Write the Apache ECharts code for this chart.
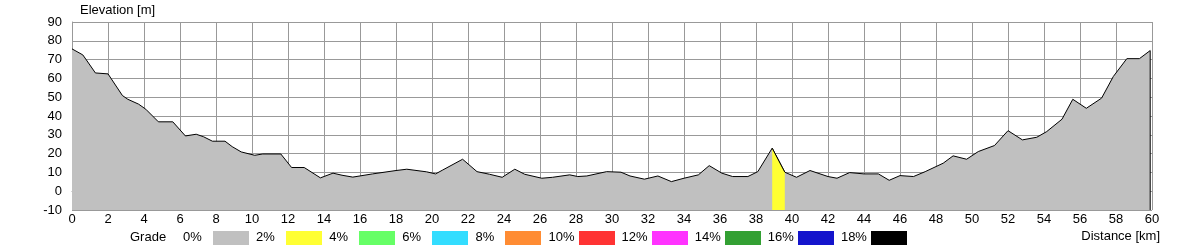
<!DOCTYPE html>
<html>
<head>
<meta charset="utf-8">
<script src="https://cdn.jsdelivr.net/npm/echarts@6/dist/echarts.min.js"></script>
<style>
html,body{margin:0;padding:0;background:#fff;}
#chart{width:1200px;height:250px;}
</style>
</head>
<body>
<div id="chart"></div>
<script>
// Distance (km) and elevation (m) along the route
var distances = [0.0,0.6,0.8,1.3,2.0,2.8,3.1,3.7,4.1,4.8,5.6,6.3,6.9,7.3,7.8,8.5,8.9,9.4,10.15,10.6,11.6,12.2,12.9,13.8,14.5,15.0,15.6,16.7,18.0,18.6,19.7,20.2,20.6,21.7,22.5,23.2,23.9,24.6,25.15,26.1,26.7,27.65,28.1,28.6,29.7,30.5,31.0,31.8,32.55,33.3,34.0,34.8,35.4,36.1,36.7,37.55,38.1,38.9,39.6,40.25,41.0,42.0,42.5,43.2,44.0,44.8,45.4,46.0,46.75,47.4,48.4,48.95,49.7,50.35,51.25,52.0,52.8,53.6,54.15,55.0,55.6,56.35,57.2,57.85,58.6,59.3,59.9,59.9];
var elevations = [75.7,72.5,69.8,62.9,62.4,50.9,48.9,46.3,43.6,36.9,36.9,29.4,30.3,29.0,26.6,26.6,23.7,20.9,19.1,19.8,19.8,12.6,12.6,7.1,9.6,8.5,7.5,9.2,11.0,11.7,10.3,9.2,11.3,17.0,10.4,9.0,7.4,11.7,9.0,6.9,7.4,8.7,7.8,8.1,10.4,10.1,8.1,6.4,8.1,5.1,6.9,8.7,13.6,9.6,7.8,7.8,10.4,22.9,10.1,7.4,11.0,7.8,6.9,9.9,9.2,9.2,5.8,8.3,7.8,10.4,14.9,18.8,17.0,21.1,24.3,32.2,27.3,28.7,31.7,38.3,48.9,44.1,49.5,61.0,70.5,70.5,74.8,-10];
// Segments coloured by grade class: [startIndex, endIndex, gradeClassIndex]
var gradeSegments = [[57,58,1]];
// Legend grade classes
var gradeLabels = ['0%','2%','4%','6%','8%','10%','12%','14%','16%','18%'];
var gradeColors = ['#c0c0c0','#ffff33','#66ff66','#33ddff','#ff8c33','#ff3333','#ff33ff','#33a033','#1414cc','#000000'];
var xTicks = {min:0,max:60,step:2};
var yTicks = {min:-10,max:90,step:10};

var profile = distances.map(function(d,i){return [d,elevations[i]];});
var FONT = '"Liberation Sans", Arial, sans-serif';
var gridColor = '#999999';

var series = [{
  type:'line', data:profile, symbol:'none', silent:true,
  lineStyle:{color:'#000',width:1},
  areaStyle:{color:gradeColors[0],opacity:1,origin:'start'},
  z:2
}];
gradeSegments.forEach(function(s){
  series.push({
    type:'line', data:profile.slice(s[0],s[1]+1), symbol:'none', silent:true,
    lineStyle:{color:'#000',width:1},
    areaStyle:{color:gradeColors[s[2]],opacity:1,origin:'start'},
    z:3
  });
});

var graphics = [{type:'text',left:130,top:231,style:{text:'Grade',font:'13px '+FONT,fill:'#000'}}];
gradeLabels.forEach(function(lab,i){
  var bx = 213 + i*73.1;
  graphics.push({type:'text',left:bx-30,top:231,style:{text:lab,font:'13px '+FONT,fill:'#000'}});
  graphics.push({type:'rect',shape:{x:Math.round(bx),y:231,width:36,height:14},style:{fill:gradeColors[i]}});
});

var chart = echarts.init(document.getElementById('chart'),null,{renderer:'canvas'});
chart.setOption({
  animation:false,
  backgroundColor:'#fff',
  textStyle:{fontFamily:FONT},
  title:[
    {text:'Elevation [m]',left:80,top:4,padding:0,textStyle:{fontSize:13,fontWeight:'normal',color:'#000',fontFamily:FONT}},
    {text:'Distance [km]',right:40,top:230,padding:0,textStyle:{fontSize:13,fontWeight:'normal',color:'#000',fontFamily:FONT}}
  ],
  grid:{left:72,right:48,top:22,bottom:40,containLabel:false},
  xAxis:{type:'value',min:xTicks.min,max:xTicks.max,interval:xTicks.step,
    axisLine:{show:true,lineStyle:{color:gridColor,width:1}},
    axisTick:{show:false},
    axisLabel:{color:'#000',fontSize:13,margin:3,fontFamily:FONT},
    splitLine:{show:true,lineStyle:{color:gridColor,width:1}}},
  yAxis:{type:'value',min:yTicks.min,max:yTicks.max,interval:yTicks.step,
    axisLine:{show:true,lineStyle:{color:gridColor,width:1}},
    axisTick:{show:false},
    axisLabel:{color:'#000',fontSize:13,margin:10,fontFamily:FONT},
    splitLine:{show:true,lineStyle:{color:gridColor,width:1}}},
  series:series,
  graphic:graphics
});
</script>
</body>
</html>
